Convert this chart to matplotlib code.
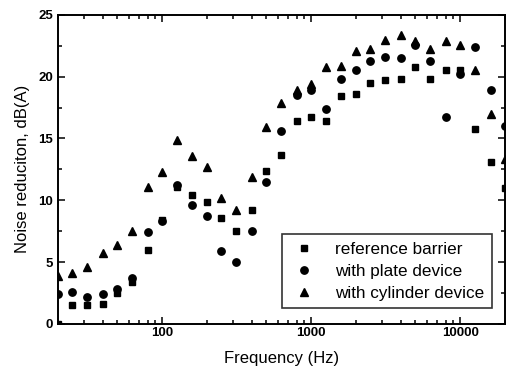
import matplotlib
matplotlib.use('Agg')
import matplotlib.pyplot as plt
from matplotlib.ticker import LogLocator, MultipleLocator, NullFormatter, FixedLocator

plt.rcParams['font.family'] = ['Liberation Sans', 'DejaVu Sans']

# 1/3 octave band centre frequencies (Hz)
freq = [20, 25, 31.5, 40, 50, 63, 80, 100, 125, 160, 200, 250, 315, 400, 500,
        630, 800, 1000, 1250, 1600, 2000, 2500, 3150, 4000, 5000, 6300, 8000,
        10000, 12500, 16000, 20000]

reference = [0.0, 1.5, 1.5, 1.6, 2.5, 3.4, 6.0, 8.4, 11.1, 10.4, 9.9, 8.6, 7.5,
             9.2, 12.4, 13.7, 16.4, 16.7, 16.4, 18.4, 18.6, 19.5, 19.7, 19.8,
             20.8, 19.8, 20.5, 20.5, 15.8, 13.1, 11.0]
plate = [2.4, 2.6, 2.2, 2.4, 2.8, 3.7, 7.4, 8.3, 11.2, 9.6, 8.7, 5.9, 5.0,
         7.5, 11.5, 15.6, 18.5, 18.9, 17.4, 19.8, 20.5, 21.3, 21.6, 21.5,
         22.6, 21.3, 16.7, 20.2, 22.4, 18.9, 16.0]
cylinder = [3.9, 4.1, 4.6, 5.7, 6.4, 7.5, 11.1, 12.3, 14.9, 13.6, 12.7, 10.2,
            9.2, 11.9, 15.9, 17.9, 18.9, 19.4, 20.8, 20.9, 22.1, 22.2, 23.0,
            23.4, 22.9, 22.2, 22.9, 22.6, 20.5, 17.0, 13.3]

fig = plt.figure(figsize=(5.08, 3.71), dpi=100)
ax = fig.add_axes([0.114, 0.127, 0.880, 0.833])

ax.plot(freq, reference, 's', color='black', ms=5, label='reference barrier')
ax.plot(freq, plate, 'o', color='black', ms=5.3, label='with plate device')
ax.plot(freq, cylinder, '^', color='black', ms=5.8, label='with cylinder device')

ax.set_xscale('log')
ax.set_xlim(20, 20000)
ax.set_ylim(0, 25)

ax.xaxis.set_major_locator(FixedLocator([100, 1000, 10000]))
ax.xaxis.set_minor_locator(LogLocator(base=10, subs=range(2, 10), numticks=20))
ax.xaxis.set_minor_formatter(NullFormatter())
ax.set_xticklabels(['100', '1000', '10000'])
ax.yaxis.set_major_locator(MultipleLocator(5))
ax.yaxis.set_minor_locator(MultipleLocator(2.5))

ax.tick_params(which='both', direction='in', top=True, right=True, width=1.1)
ax.tick_params(which='major', length=5, labelsize=9.5)
ax.tick_params(which='minor', length=3)
ax.tick_params(axis='x', pad=2)
for lbl in ax.get_xticklabels() + ax.get_yticklabels():
    lbl.set_fontweight('bold')
for s in ax.spines.values():
    s.set_linewidth(1.4)

ax.set_xlabel('Frequency (Hz)', fontsize=12, labelpad=9)
ax.set_ylabel('Noise reduciton, dB(A)', fontsize=12, labelpad=6)

leg = ax.legend(loc='lower right', bbox_to_anchor=(0.97, 0.05), fontsize=12.3,
                frameon=True, fancybox=False, edgecolor='black',
                handletextpad=1.0, borderpad=0.45, labelspacing=0.4,
                handlelength=1.6, borderaxespad=0)
leg.get_frame().set_linewidth(1.2)

fig.savefig('out.png', dpi=100)
